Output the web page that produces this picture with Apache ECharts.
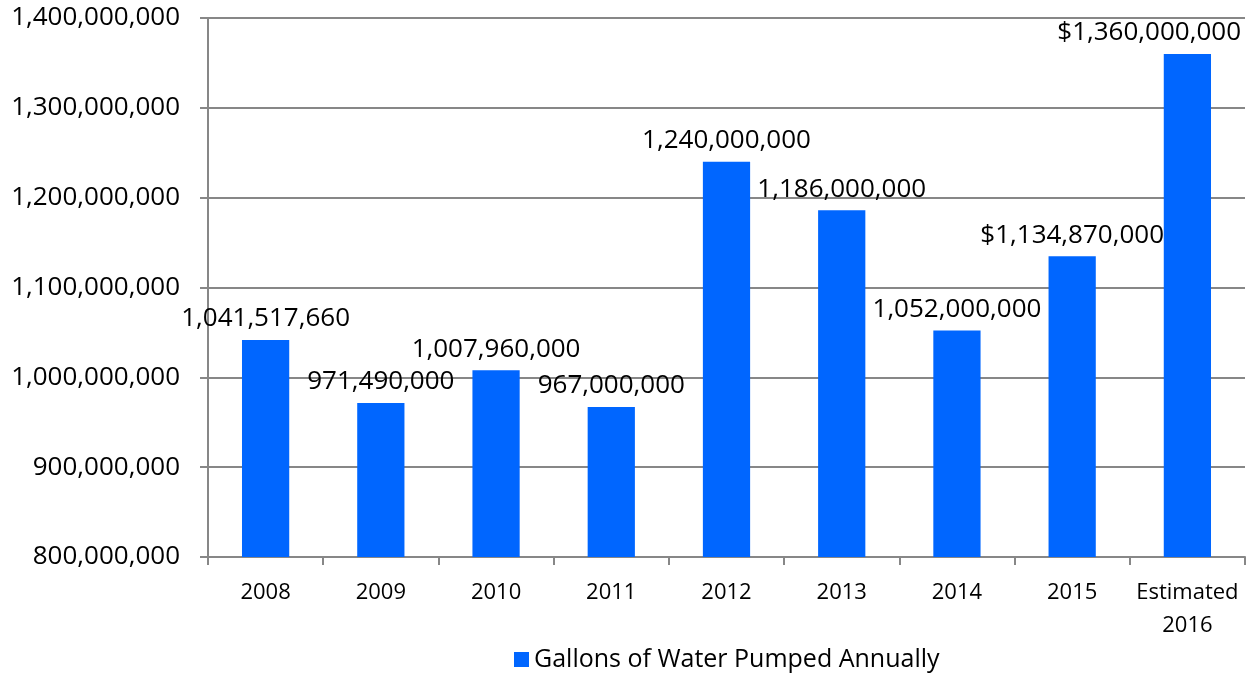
<!DOCTYPE html>
<html>
<head>
<meta charset="utf-8">
<script src="https://cdn.jsdelivr.net/npm/echarts@6/dist/echarts.min.js"></script>
<style>
  html, body { margin: 0; padding: 0; background: #fff; }
  #chart { width: 1255px; height: 679px; }
</style>
</head>
<body>
<div id="chart"></div>
<script>
// Annual pumping volumes, 2008 through the 2016 estimate
const categories = ['2008', '2009', '2010', '2011', '2012', '2013', '2014', '2015', 'Estimated\n2016'];
const gallons = [1041517660, 971490000, 1007960000, 967000000, 1240000000, 1186000000, 1052000000, 1134870000, 1360000000];
// Label prefixes as printed on each bar
const labelPrefix = ['', '', '', '', '', '', '', '$', '$'];
const seriesName = 'Gallons of Water Pumped Annually';

const fmt = v => v.toLocaleString('en-US');
const font = '"Open Sans", "Liberation Sans", sans-serif';
const W = 1255;

const chart = echarts.init(document.getElementById('chart'));
chart.setOption({
  animation: false,
  textStyle: { fontFamily: font },
  grid: { left: 208, top: 18, right: 10, bottom: 122, containLabel: false },
  legend: {
    bottom: 2,
    left: 509,
    itemWidth: 15,
    itemHeight: 15,
    itemGap: 6,
    icon: 'rect',
    textStyle: { fontSize: 25, color: '#000', fontFamily: font },
    data: [seriesName]
  },
  xAxis: {
    type: 'category',
    data: categories,
    axisLine: { lineStyle: { color: '#878787', width: 2 } },
    axisTick: { show: true, length: 8, interval: 0, alignWithLabel: false, lineStyle: { color: '#878787', width: 2 } },
    axisLabel: { interval: 0, color: '#000', fontSize: 22, margin: 19, lineHeight: 33, fontFamily: font }
  },
  yAxis: {
    type: 'value',
    min: 800000000,
    max: 1400000000,
    interval: 100000000,
    axisLine: { show: true, lineStyle: { color: '#878787', width: 2 } },
    axisTick: { show: true, length: 8, lineStyle: { color: '#878787', width: 2 } },
    splitLine: { show: true, lineStyle: { color: '#878787', width: 2 } },
    axisLabel: { color: '#000', fontSize: 26, margin: 28, fontFamily: font, formatter: v => fmt(v) }
  },
  series: [{
    name: seriesName,
    type: 'bar',
    data: gallons,
    barWidth: '41%',
    itemStyle: { color: '#0066FF' },
    label: {
      show: true,
      position: 'top',
      distance: 8,
      color: '#000',
      fontSize: 26,
      fontFamily: font,
      formatter: p => labelPrefix[p.dataIndex] + fmt(p.value)
    },
    // keep value labels inside the canvas edge
    labelLayout: p => {
      const r = p.labelRect;
      const over = r.x + r.width - (W - 14);
      return over > 0 ? { dx: -over } : {};
    }
  }]
});
</script>
</body>
</html>
